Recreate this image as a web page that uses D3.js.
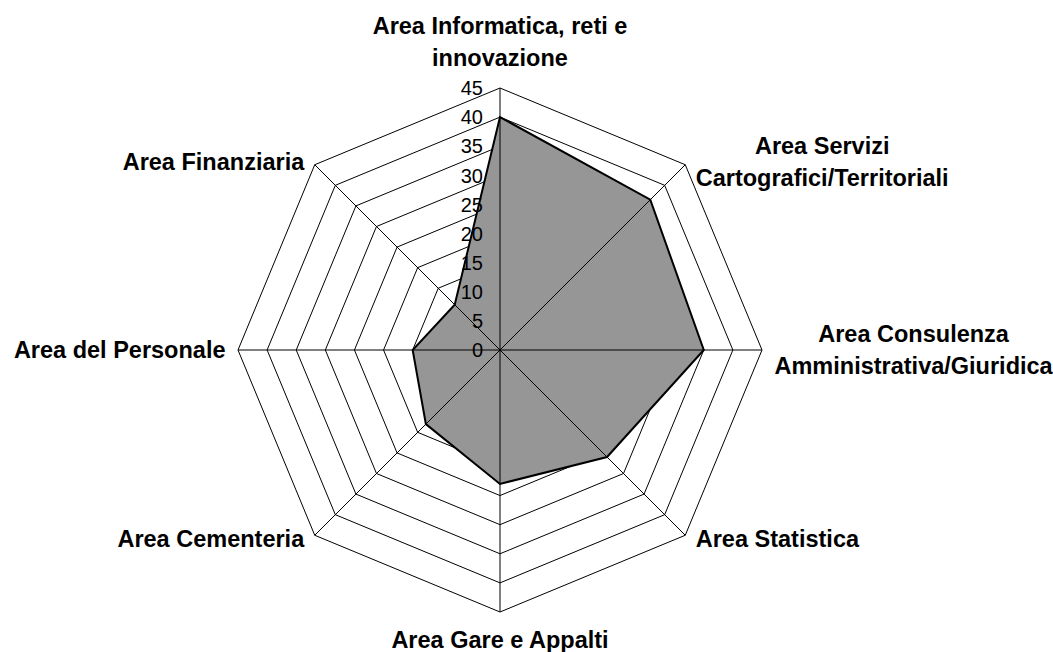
<!DOCTYPE html>
<html>
<head>
<meta charset="utf-8">
<script src="https://cdn.jsdelivr.net/npm/d3@7"></script>
<style>
  html, body { margin: 0; padding: 0; background: #fff; }
  svg { display: block; }
</style>
</head>
<body>
<svg id="chart" width="1053" height="652"></svg>
<script>
// ---- data ----
const categories = [
  ["Area Informatica, reti e", "innovazione"],
  ["Area Servizi", "Cartografici/Territoriali"],
  ["Area Consulenza", "Amministrativa/Giuridica"],
  ["Area Statistica"],
  ["Area Gare e Appalti"],
  ["Area Cementeria"],
  ["Area del Personale"],
  ["Area Finanziaria"]
];
const values = [40, 36.5, 35, 26, 23, 18, 15, 11];
const tickValues = [0, 5, 10, 15, 20, 25, 30, 35, 40, 45];
const maxValue = 45;

// ---- layout ----
const svg = d3.select("#chart");
const W = 1053, H = 652;
const cx = 500, cy = 350;
const R = 262;
const n = categories.length;
const font = "'Liberation Sans', Arial, sans-serif";

svg.append("rect").attr("width", W).attr("height", H).attr("fill", "#fff");

const r = d3.scaleLinear().domain([0, maxValue]).range([0, R]);
const angle = d3.scaleLinear().domain([0, n]).range([0, 2 * Math.PI]);

const pt = (i, v) => {
  const a = angle(i);
  return [cx + r(v) * Math.sin(a), cy - r(v) * Math.cos(a)];
};

const g = svg.append("g");

// rings
const ringLine = d3.line();
g.append("g").selectAll("path")
  .data(tickValues.filter(t => t > 0))
  .join("path")
  .attr("d", t => ringLine(d3.range(n).map(i => pt(i, t))) + "Z")
  .attr("fill", "none")
  .attr("stroke", "#000")
  .attr("stroke-width", 1);

// data polygon
g.append("path")
  .attr("d", ringLine(values.map((v, i) => pt(i, v))) + "Z")
  .attr("fill", "#969696")
  .attr("stroke", "#000")
  .attr("stroke-width", 2)
  .attr("stroke-linejoin", "miter");

// spokes
g.append("g").selectAll("line")
  .data(d3.range(n))
  .join("line")
  .attr("x1", cx).attr("y1", cy)
  .attr("x2", i => pt(i, maxValue)[0])
  .attr("y2", i => pt(i, maxValue)[1])
  .attr("stroke", "#000")
  .attr("stroke-width", 1);

// tick labels along top axis
g.append("g").selectAll("text")
  .data(tickValues)
  .join("text")
  .attr("x", cx - 17)
  .attr("y", t => cy - r(t))
  .attr("dy", "0.36em")
  .attr("text-anchor", "end")
  .attr("font-family", font)
  .attr("font-size", 20)
  .attr("fill", "#000")
  .text(t => t);

// category labels
const lineH = 32;
const fs = 23.5;
const labG = svg.append("g");
categories.forEach((lines, i) => {
  const a = angle(i);
  const [vx, vy] = pt(i, maxValue);
  const s = Math.sin(a), c = Math.cos(a);
  const grp = labG.append("g");
  const texts = lines.map((t, k) => grp.append("text")
    .attr("font-family", font)
    .attr("font-size", fs)
    .attr("font-weight", "bold")
    .attr("text-anchor", "middle")
    .attr("dy", "0.36em")
    .attr("fill", "#000")
    .text(t));
  const maxW = d3.max(texts, t => t.node().getComputedTextLength());
  const blockH = (lines.length - 1) * lineH;
  let xc, yc;
  if (Math.abs(s) < 0.01) {
    xc = vx;
    if (c > 0) yc = vy - 30 - blockH / 2;      // top
    else yc = vy + 28 + blockH / 2;            // bottom
  } else {
    const gap = Math.abs(c) < 0.01 ? 12.5 : 10.5;
    xc = s > 0 ? vx + gap + maxW / 2 : vx - gap - maxW / 2;
    yc = vy - 5 * c;
  }
  texts.forEach((t, k) => {
    t.attr("x", xc).attr("y", yc - blockH / 2 + k * lineH);
  });
});
</script>
</body>
</html>
